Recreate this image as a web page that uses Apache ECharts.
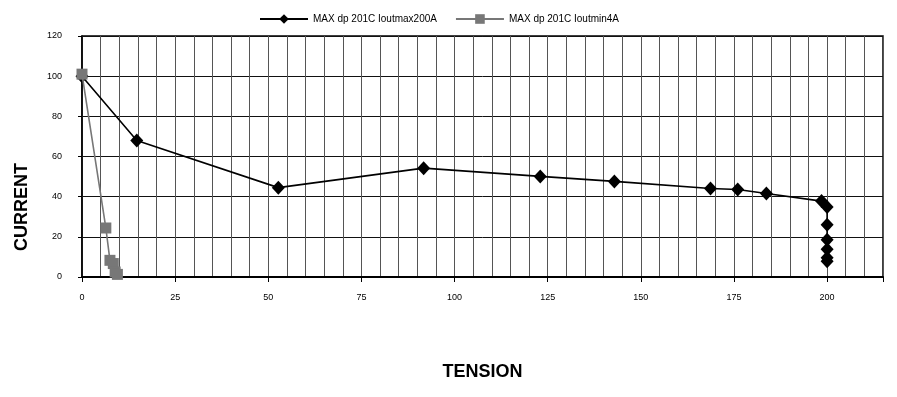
<!DOCTYPE html>
<html>
<head>
<meta charset="utf-8">
<script src="https://cdn.jsdelivr.net/npm/echarts@6/dist/echarts.min.js"></script>
<style>
  html, body { margin: 0; padding: 0; background: #fff; }
  #chart { width: 897px; height: 397px; }
</style>
</head>
<body>
<div id="chart"></div>
<script>
// Series names
const seriesNames = ['MAX dp 201C Ioutmax200A', 'MAX dp 201C Ioutmin4A'];

// MAX dp 201C Ioutmax200A : [tension, current]
const tensionMax = [0, 14.7, 52.7, 91.7, 123, 142.9, 168.7, 176, 183.7, 198.5, 200, 200, 200, 200, 200, 200];
const currentMax = [100, 68, 44.5, 54.2, 50.1, 47.6, 44.1, 43.6, 41.6, 37.8, 34.8, 26, 18.6, 13.8, 9.6, 7.8];

// MAX dp 201C Ioutmin4A : [tension, current]
const tensionMin = [0, 6.4, 7.5, 8.4, 8.9, 9.5];
const currentMin = [101, 24.4, 8.3, 6.7, 2.5, 1.3];

// Axis titles
const xTitle = 'TENSION';
const yTitle = 'CURRENT';

// Axis settings
const xMax = 215, xMajor = 25;
const yMax = 120, yStep = 20;

const pairs = (xs, ys) => xs.map((x, i) => [x, ys[i]]);

const chart = echarts.init(document.getElementById('chart'), null, { renderer: 'canvas' });

chart.setOption({
  animation: false,
  backgroundColor: '#ffffff',
  textStyle: { fontFamily: 'Liberation Sans, Arial, sans-serif' },
  legend: {
    top: 9,
    left: 254,
    itemWidth: 48,
    itemHeight: 12,
    itemGap: 18,
    textStyle: { fontSize: 10, color: '#000' },
    data: seriesNames
  },
  grid: {
    left: 82,
    right: 14,
    top: 36,
    bottom: 120,
    show: true,
    borderColor: '#000',
    borderWidth: 1.5
  },
  graphic: [
    {
      type: 'text',
      x: 22,
      y: 207,
      rotation: Math.PI / 2,
      style: {
        text: yTitle,
        font: 'bold 18px "Liberation Sans", Arial, sans-serif',
        fill: '#000',
        align: 'center',
        verticalAlign: 'middle'
      }
    }
  ],
  xAxis: {
    type: 'value',
    min: 0,
    max: xMax,
    interval: xMajor,
    name: xTitle,
    nameLocation: 'middle',
    nameGap: 86,
    nameTextStyle: { fontSize: 18, fontWeight: 'bold', color: '#000' },
    axisLine: { show: true, onZero: false, lineStyle: { color: '#000', width: 2 } },
    axisTick: { show: true, length: 5, lineStyle: { color: '#000' } },
    axisLabel: {
      color: '#000', fontSize: 9, margin: 16,
      formatter: v => (v <= 200 ? String(v) : '')
    },
    splitLine: { show: true, lineStyle: { color: '#555', width: 1 } },
    minorTick: { show: false, splitNumber: 5 },
    minorSplitLine: { show: true, lineStyle: { color: '#555', width: 1 } }
  },
  yAxis: {
    type: 'value',
    min: 0,
    max: yMax,
    interval: yStep,
    axisLine: { show: true, lineStyle: { color: '#000', width: 1.5 } },
    axisTick: { show: true, length: 4, lineStyle: { color: '#000' } },
    axisLabel: { color: '#000', fontSize: 9, margin: 20 },
    splitLine: { show: true, lineStyle: { color: '#111', width: 1 } }
  },
  series: [
    {
      name: seriesNames[0],
      type: 'line',
      data: pairs(tensionMax, currentMax),
      symbol: 'diamond',
      symbolSize: [13, 14],
      itemStyle: { color: '#000' },
      lineStyle: { color: '#000', width: 1.6 },
      z: 3
    },
    {
      name: seriesNames[1],
      type: 'line',
      data: pairs(tensionMin, currentMin),
      symbol: 'rect',
      symbolSize: 11,
      itemStyle: { color: '#777' },
      lineStyle: { color: '#777', width: 1.6 },
      z: 4
    }
  ]
});
</script>
</body>
</html>
